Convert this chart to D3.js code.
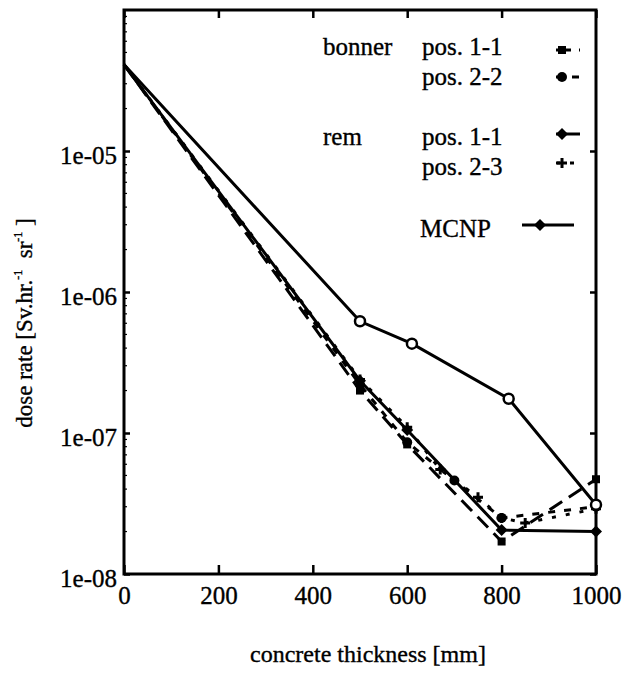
<!DOCTYPE html>
<html><head><meta charset="utf-8">
<script src="https://cdn.jsdelivr.net/npm/d3@7"></script>
<style>body{margin:0;background:#fff}svg{display:block}text{font-family:"Liberation Serif","Times New Roman",serif;fill:#000;stroke:#000;stroke-width:0.35px}</style>
</head><body><svg id="c" width="622" height="673"></svg>
<script>
const thickness_b11 = [0, 500, 600, 800, 1000];
const bonner11 = [4.1e-5, 2.0e-7, 8.3e-8, 1.7e-8, 4.7e-8];
const thickness_b22 = [0, 500, 600, 700, 800, 1000];
const bonner22 = [4.1e-5, 2.2e-7, 8.6e-8, 4.6e-8, 2.5e-8, 3.0e-8];
const thickness_r11 = [0, 500, 600, 800, 1000];
const rem11 = [4.1e-5, 2.35e-7, 1.05e-7, 2.05e-8, 2.0e-8];
const thickness_r23 = [0, 500, 600, 670, 750, 800, 850, 1000];
const rem23 = [4.1e-5, 2.4e-7, 1.1e-7, 5.5e-8, 3.5e-8, 2.5e-8, 2.3e-8, 2.9e-8];
const thickness_mcnp = [0, 500, 610, 815, 1000];
const mcnp = [4.1e-5, 6.2e-7, 4.3e-7, 1.75e-7, 3.1e-8];
const xTicks = [0, 200, 400, 600, 800, 1000];
const yTicks = [1e-8, 1e-7, 1e-6, 1e-5];
const yTickLabels = ["1e-08", "1e-07", "1e-06", "1e-05"];

const svg = d3.select("#c");
const L = 124, R = 596, T = 10, B = 574;
const x = d3.scaleLinear().domain([0, 1000]).range([L, R]);
const y = d3.scaleLog().domain([1e-8, 1e-4]).range([B, T]);

// minor ticks on left
const minors = [];
for (let e = -8; e < -4; e++) for (let m = 2; m <= 9; m++) minors.push(m * Math.pow(10, e));
svg.append("g").selectAll("line").data(minors).join("line")
  .attr("x1", L).attr("x2", L + 3).attr("y1", d => y(d)).attr("y2", d => y(d))
  .attr("stroke", "#000").attr("stroke-width", 1.2);

// bottom axis
const gx = svg.append("g").attr("transform", `translate(0,${B})`)
  .call(d3.axisBottom(x).tickValues(xTicks).tickSize(-9).tickPadding(12).tickFormat(d3.format("d")));
gx.select(".domain").remove();
gx.selectAll("line").attr("stroke-width", 2.5);
gx.selectAll("text").attr("font-size", 25);
// top ticks
svg.append("g").attr("transform", `translate(0,${T})`)
  .call(d3.axisTop(x).tickValues(xTicks).tickSize(-8).tickFormat(""))
  .call(g => { g.select(".domain").remove(); g.selectAll("line").attr("stroke-width", 2.5); });
// left axis
const gy = svg.append("g").attr("transform", `translate(${L},0)`)
  .call(d3.axisLeft(y).tickValues(yTicks).tickSize(-6).tickPadding(7).tickFormat((d, i) => yTickLabels[i]));
gy.select(".domain").remove();
gy.selectAll("line").attr("stroke-width", 2.5);
gy.selectAll("text").attr("font-size", 25).attr("dy", "0.5em");
// right ticks
svg.append("g").attr("transform", `translate(${R},0)`)
  .call(d3.axisRight(y).tickValues(yTicks).tickSize(-6).tickFormat(""))
  .call(g => { g.select(".domain").remove(); g.selectAll("line").attr("stroke-width", 2.5); });

// frame
svg.append("rect").attr("x", L).attr("y", T).attr("width", R - L).attr("height", B - T)
  .attr("fill", "none").attr("stroke", "#000").attr("stroke-width", 3);

const line = d3.line().x(d => x(d[0])).y(d => y(d[1]));
const series = [
  {xs: thickness_b11, ys: bonner11, dash: "15,8", marker: "square"},
  {xs: thickness_b22, ys: bonner22, dash: "7,9", marker: "circle"},
  {xs: thickness_r11, ys: rem11, dash: null, marker: "diamond"},
  {xs: thickness_r23, ys: rem23, dash: "4,10", marker: "plus"},
  {xs: thickness_mcnp, ys: mcnp, dash: null, marker: "open"}
];
function drawMarker(g, type, cx, cy) {
  if (type === "square") g.append("rect").attr("x", cx - 4).attr("y", cy - 4).attr("width", 8).attr("height", 8).attr("fill", "#000");
  else if (type === "circle") g.append("circle").attr("cx", cx).attr("cy", cy).attr("r", 5).attr("fill", "#000");
  else if (type === "diamond") g.append("path").attr("d", `M${cx},${cy-6}L${cx+6},${cy}L${cx},${cy+6}L${cx-6},${cy}Z`).attr("fill", "#000");
  else if (type === "plus") g.append("path").attr("d", `M${cx-5},${cy}H${cx+5}M${cx},${cy-5}V${cy+5}`).attr("stroke", "#000").attr("stroke-width", 3);
  else if (type === "open") g.append("circle").attr("cx", cx).attr("cy", cy).attr("r", 5).attr("fill", "#fff").attr("stroke", "#000").attr("stroke-width", 2.5);
}
series.forEach(s => {
  const pts = s.xs.map((v, i) => [v, s.ys[i]]);
  svg.append("path").datum(pts).attr("d", line).attr("fill", "none").attr("stroke", "#000")
    .attr("stroke-width", 3).attr("stroke-dasharray", s.dash);
  const g = svg.append("g");
  pts.slice(1).forEach(p => drawMarker(g, s.marker, x(p[0]), y(p[1])));
});

// legend
const lg = svg.append("g").attr("font-size", 25);
const legendRows = [
  {group: "bonner", label: "pos. 1-1", base: 55, my: 50, dash: "15,8", marker: "square"},
  {group: "", label: "pos. 2-2", base: 85, my: 77, dash: "7,9", marker: "circle"},
  {group: "rem", label: "pos. 1-1", base: 145, my: 134, dash: null, marker: "diamond"},
  {group: "", label: "pos. 2-3", base: 175, my: 163, dash: "4,10", marker: "plus"}
];
legendRows.forEach(r => {
  if (r.group) lg.append("text").attr("x", 323).attr("y", r.base).text(r.group);
  lg.append("text").attr("x", 422).attr("y", r.base).text(r.label);
  lg.append("line").attr("x1", 556).attr("x2", 580).attr("y1", r.my).attr("y2", r.my)
    .attr("stroke", "#000").attr("stroke-width", 3).attr("stroke-dasharray", r.dash);
  drawMarker(lg, r.marker, 562, r.my);
});
lg.append("text").attr("x", 420).attr("y", 237).text("MCNP");
lg.append("line").attr("x1", 522).attr("x2", 574).attr("y1", 225).attr("y2", 225).attr("stroke", "#000").attr("stroke-width", 3);
drawMarker(lg, "diamond", 540, 225);

// axis titles
svg.append("text").attr("x", 368).attr("y", 662).attr("text-anchor", "middle").attr("font-size", 24)
  .text("concrete thickness [mm]");
const yt = svg.append("text").attr("transform", "translate(32,323) rotate(-90)").attr("text-anchor", "middle").attr("font-size", 23);
yt.append("tspan").text("dose rate [Sv.hr.");
yt.append("tspan").attr("font-size", 12).attr("dy", -10).text("-1");
yt.append("tspan").attr("dy", 10).text("\u00a0 sr");
yt.append("tspan").attr("font-size", 12).attr("dy", -10).text("-1");
yt.append("tspan").attr("dy", 10).text("\u00a0]");
</script></body></html>
